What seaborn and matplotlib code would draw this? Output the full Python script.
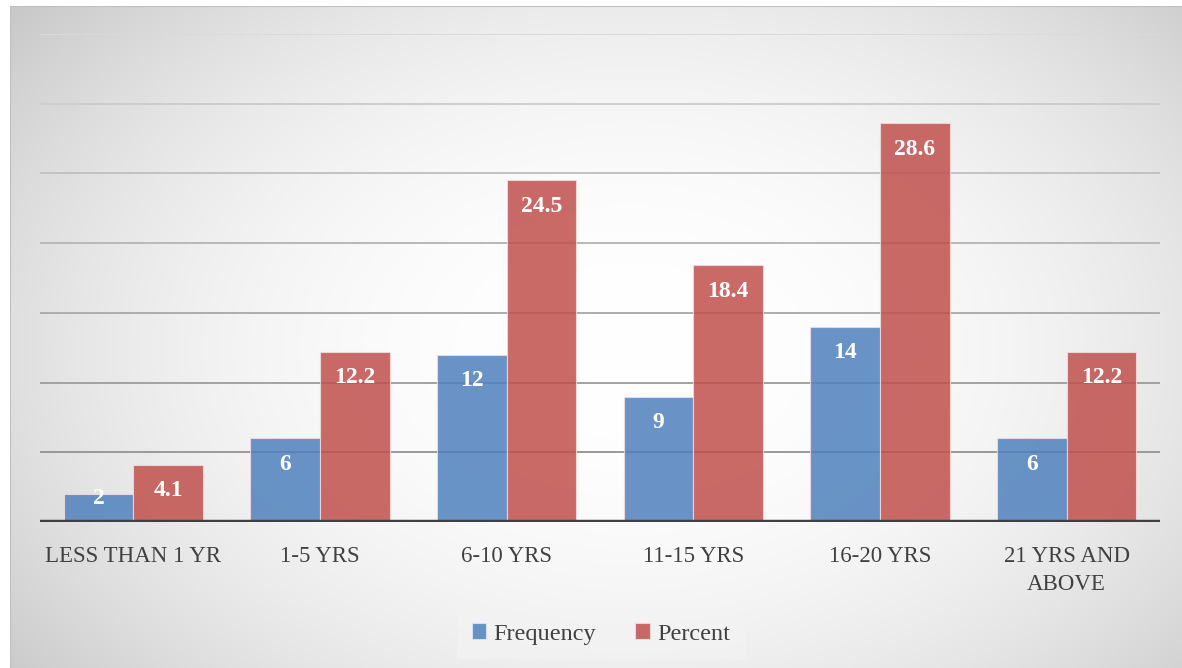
import numpy as np
import pandas as pd
import matplotlib
matplotlib.use("Agg")
import matplotlib.pyplot as plt
from matplotlib.patches import Patch
import seaborn as sns

# Years of experience: respondent counts and share of total
categories = ["LESS THAN 1 YR", "1-5 YRS", "6-10 YRS", "11-15 YRS", "16-20 YRS", "21 YRS AND\nABOVE"]
frequency = [2, 6, 12, 9, 14, 6]
percent = [4.1, 12.2, 24.5, 18.4, 28.6, 12.2]
series_names = ["Frequency", "Percent"]

df = pd.DataFrame({
    "category": categories * 2,
    "value": frequency + percent,
    "series": [series_names[0]] * len(categories) + [series_names[1]] * len(categories),
})

BLUE = "#4F81BD"
RED = "#C0504D"
TEXT = "#404040"
FONT = ["Liberation Serif", "DejaVu Serif"]

sns.set_theme(style="white")
plt.rcParams["font.family"] = FONT

W, H = 1182, 668
fig = plt.figure(figsize=(W / 100, H / 100), dpi=100)
fig.patch.set_facecolor("white")

# Radial gradient panel behind the chart
bg = fig.add_axes([10 / W, 0, 1 - 10 / W, 1 - 6 / H], zorder=0)
gx, gy = np.meshgrid(np.linspace(0, 1, 600), np.linspace(0, 1, 340))
r = np.sqrt(((gx - 0.53) / 0.70) ** 2 + ((gy - 0.52) / 0.85) ** 2)
shade = np.clip(1.0 - 0.23 * np.clip(r, 0, 1.2) ** 2.2, 0, 1)
bg.imshow(np.dstack([shade] * 3), aspect="auto", extent=[0, 1, 0, 1], origin="upper")
bg.set_axis_off()
bg.axvline(0.0, color="#bfbfbf", lw=1.5)
bg.axhline(1.0, color="#bfbfbf", lw=1.5)

ax = fig.add_axes([40 / W, 1 - 522 / H, 1120 / W, (522 - 34) / H], zorder=1)
ax.patch.set_alpha(0)

sns.barplot(
    data=df, x="category", y="value", hue="series",
    palette=[BLUE, RED], saturation=1, width=0.745, gap=0.0, alpha=0.85,
    edgecolor="#f2dcdb", linewidth=0.8, ax=ax, legend=False, zorder=3,
)

ax.set_ylim(0, 35)
grid_levels = np.arange(5, 36, 5)
grid_colors = ["#999999", "#a2a2a2", "#adadad", "#b8b8b8", "#c2c2c2", "#cdcdcd", "#dadada"]
ax.set_yticks(grid_levels)
ax.set_yticklabels([])
ax.tick_params(axis="y", length=0)
for yv, gc in zip(grid_levels, grid_colors):
    ax.axhline(yv, color=gc, lw=1.4, zorder=1)
ax.axhline(0, color="#404040", lw=3.2, zorder=4)
for s in ax.spines.values():
    s.set_visible(False)

ax.set_xlabel("")
ax.set_ylabel("")
ax.tick_params(axis="x", length=0, pad=17, labelsize=16.5, labelcolor=TEXT)
for lbl in ax.get_xticklabels():
    lbl.set_family(FONT)
    lbl.set_linespacing(1.45)

# Value labels inside the top of each bar
px_per_unit = (522 - 34) / 35.0
for cont in ax.containers:
    for bar in cont:
        v = bar.get_height()
        y = max(v - 26 / px_per_unit, 24 / px_per_unit)
        ax.text(bar.get_x() + bar.get_width() / 2, y, f"{v:g}",
                ha="center", va="center", color="white", fontsize=17,
                fontweight="bold", family=FONT, zorder=5)

handles = [Patch(facecolor=BLUE, alpha=0.85, edgecolor="#dce6f2", lw=0.8, label=series_names[0]),
           Patch(facecolor=RED, alpha=0.85, edgecolor="#f2dcdb", lw=0.8, label=series_names[1])]
leg = fig.legend(handles=handles, loc="center", bbox_to_anchor=(601 / W, 1 - 634 / H),
                 ncol=2, frameon=True, fontsize=17.5, handlelength=0.6, handleheight=0.6,
                 handletextpad=0.3, columnspacing=1.6, borderpad=0.6, fancybox=False)
leg.get_frame().set_facecolor("#f3f3f3")
leg.get_frame().set_edgecolor("none")
leg.get_frame().set_alpha(0.7)
for t in leg.get_texts():
    t.set_color(TEXT)

fig.savefig("out.png", dpi=100)
